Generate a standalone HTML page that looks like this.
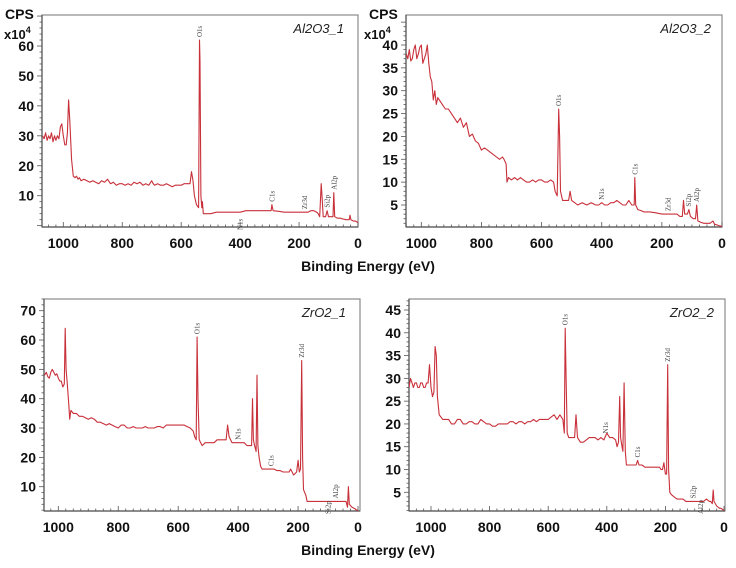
<!DOCTYPE html>
<html><head><meta charset="utf-8">
<style>
html,body{margin:0;padding:0;background:#fff;}
svg{display:block;font-family:"Liberation Sans",sans-serif;}
</style></head>
<body>
<svg id="chart" width="736" height="568" viewBox="0 0 736 568"></svg>
<script>
// ---- data: [binding energy (eV), CPS x10^4] ----
const al2o3_1 = [[1070,30],[1065,29],[1060,31],[1055,28.5],[1050,30],[1045,29],[1040,31],[1035,28],[1030,30],[1025,28.5],[1020,30],[1015,29],[1010,33],[1005,34],[1000,30],[995,27],[990,27],[986,31],[982,42],[978,35],[972,22],[966,16.5],[960,16],[955,16.5],[950,15.5],[945,16],[940,15],[930,15.5],[920,15],[910,14.5],[900,15],[890,14.5],[880,14],[870,15],[860,14.5],[850,15.5],[840,14],[830,14.5],[820,13.5],[810,14],[800,14],[790,13.5],[780,14],[770,13.5],[760,14.5],[750,14],[740,14.5],[730,13.5],[720,14],[710,13.5],[700,15],[695,14],[690,13.5],[680,14],[670,13.5],[660,13.5],[650,14],[640,13.5],[630,13],[620,13.5],[610,13.5],[600,13.5],[590,14],[580,14],[570,14],[565,18],[560,15],[555,10],[548,7],[541,6],[538,62],[536,55],[533,10],[530,6],[528,8],[525,4],[510,4],[500,4],[480,4.5],[460,4.5],[440,4.5],[420,4.5],[400,4.5],[380,5],[360,5],[340,5],[320,5],[300,5],[295,5],[292,7],[288,5],[270,4.8],[250,4.5],[230,4.5],[210,4.5],[190,4.5],[170,4.5],[160,5],[150,5],[140,4.5],[135,4],[130,3],[125,14],[122,10],[118,3],[110,3],[105,5],[100,3],[90,3],[85,3],[82,11],[79,3],[70,2.5],[60,2.5],[50,2.2],[40,2],[30,2],[27,3.5],[24,2],[15,1.5],[8,1.5],[0,1]];
const al2o3_2 = [[1050,38],[1045,37],[1040,39],[1035,36.5],[1030,37],[1025,39],[1020,40],[1015,37],[1010,38],[1005,39.5],[1000,40],[995,36],[990,37],[985,38],[980,40],[975,36],[970,33],[965,32],[960,28],[955,30],[950,27],[945,28.5],[940,28],[930,27],[920,26],[910,26],[900,25],[890,24],[880,23],[870,24],[860,22],[850,23],[840,20],[830,20.5],[820,19],[810,18.5],[800,17],[790,17.5],[780,17],[770,16.5],[760,16],[750,15.5],[740,15],[730,15.5],[725,15],[718,14],[715,10],[710,11],[700,10.5],[690,11],[680,10.5],[670,11],[660,10.5],[650,10],[640,10],[630,10.5],[620,10],[610,10.5],[600,10.5],[590,10],[580,10],[570,10.5],[560,10],[555,8],[548,7],[543,26],[540,20],[537,8],[530,6],[520,6],[510,6],[505,8],[500,6],[490,5.5],[480,5],[465,5.5],[450,5],[435,5.5],[420,5],[410,5],[400,5.5],[390,5],[380,5],[370,5.5],[360,5.5],[350,6],[340,5.5],[330,5],[320,5],[310,6],[300,5],[292,5],[290,11],[287,5],[280,4],[270,3.8],[260,3.5],[250,3.5],[240,3.5],[220,3.3],[200,3],[190,3],[180,3],[170,3],[160,3],[150,3],[140,2.5],[132,2.5],[128,6],[124,3],[115,3],[110,4],[105,2.5],[95,2],[88,2],[84,5],[80,1.5],[70,1.2],[60,1],[50,1],[40,1],[30,1.5],[25,0.8],[15,0.6],[10,0.5],[0,0.3]];
const zro2_1 = [[1046,48],[1040,49],[1035,47.5],[1030,47],[1025,49],[1020,50],[1015,49],[1010,48],[1005,48.5],[1000,47],[995,46],[990,46],[985,44],[980,45],[977,64],[974,50],[970,45],[965,38],[962,33],[958,36],[950,35],[940,35],[930,34],[920,34],[910,33.5],[900,33],[890,33.5],[880,33],[870,32],[860,32],[850,31.5],[840,31],[830,31.5],[820,31],[810,30.5],[800,30],[790,31],[780,31],[770,30],[760,30],[750,30.5],[740,30],[730,30],[720,30],[710,30.5],[700,30],[690,30],[680,30],[670,30.5],[660,30.5],[650,30],[640,31],[630,31],[620,31],[610,31],[600,31],[590,31],[580,31],[570,30.5],[560,30],[550,29],[545,27],[540,26],[537,61],[534,40],[530,26],[525,25],[520,24],[510,25],[500,25],[490,25],[480,25],[470,26],[460,26],[450,26],[440,26],[435,31],[430,27],[420,25],[410,25],[400,25],[390,25],[380,25],[370,24],[360,24],[355,24],[352,40],[349,26],[345,24],[340,22],[337,48],[334,24],[330,20],[325,17],[320,16],[310,16],[300,16],[290,16],[280,16],[270,15.5],[260,15.5],[250,15],[240,15],[230,15],[225,16],[220,15],[215,14],[205,15],[200,19],[196,15],[192,16],[188,53],[185,20],[182,9],[178,8],[174,7],[170,5],[160,5],[150,5],[135,5],[120,5],[100,5],[80,5],[60,5],[45,5],[40,5],[35,3],[32,10],[29,4],[20,3],[10,2.5],[5,2],[0,2]];
const zro2_2 = [[1075,28],[1070,30],[1065,29],[1060,28],[1055,29],[1050,29],[1045,28],[1040,28],[1035,29],[1030,29],[1025,28],[1020,28],[1015,29],[1010,29],[1005,33],[1000,28],[995,26],[990,27],[986,37],[982,35],[978,26],[972,22],[966,21.5],[960,21],[950,21],[940,21],[930,20],[920,20],[910,21],[900,21],[890,20],[880,20],[870,20.5],[860,20.5],[850,20],[840,20],[830,21],[820,20.5],[810,20],[800,20],[790,19.5],[780,19.5],[770,20],[760,20],[750,20],[740,20],[730,20.5],[720,20.5],[710,20],[700,20.5],[690,20.5],[680,20],[670,20.5],[660,20.5],[650,21],[640,20.5],[630,21],[620,21],[610,21],[600,21],[590,21.5],[580,22],[570,21],[560,22],[550,21],[545,18],[542,41],[539,30],[535,18],[530,17],[520,17],[510,17],[505,22],[500,17],[490,16],[480,16],[470,16.5],[460,17],[450,17],[440,17],[430,16.5],[420,17],[410,16.5],[400,18],[390,17],[380,17],[370,16.5],[365,15],[360,16],[356,26],[353,17],[348,15],[345,14],[341,29],[337,14],[333,11],[325,11],[320,11],[310,11],[300,11],[295,12],[290,11],[280,11],[270,10.5],[260,10.5],[250,10.5],[240,10.5],[230,10.5],[220,10.5],[215,10],[210,10],[205,11.5],[200,9],[196,9],[192,33],[189,10],[185,5],[180,4.5],[170,4],[160,3.5],[150,3.5],[140,3.5],[130,3],[120,3],[110,3],[100,3],[90,3],[80,3],[70,3],[60,3.5],[50,3],[45,3],[40,2.5],[37,5.5],[34,3],[25,2],[15,1.5],[10,1.5],[0,1]];

const xTicks = [1000,800,600,400,200,0];
const yTicks1 = [10,20,30,40,50,60];
const yTicks2 = [5,10,15,20,25,30,35,40];
const yTicks3 = [10,20,30,40,50,60,70];
const yTicks4 = [5,10,15,20,25,30,35,40,45];

const names = ["Al2O3_1","Al2O3_2","ZrO2_1","ZrO2_2"];
const peakNames1 = ["O1s","C1s","Zr3d","Si2p","Al2p","N1s"];
const peakE1 = [538,292,182,105,82,400];
const peakE2 = [543,290,180,112,84,400];
const peakE3 = [537,290,188,100,75,400];
const peakE4 = [542,295,192,105,80,405];

const NS = "http://www.w3.org/2000/svg";
const svg = document.getElementById('chart');
function mk(tag, attrs, parent){
  const e = document.createElementNS(NS, tag);
  for (const k in attrs) e.setAttribute(k, attrs[k]);
  (parent||svg).appendChild(e);
  return e;
}
function valueAt(data, e){
  let best = -1;
  data.forEach(pt => { if (Math.abs(pt[0]-e) <= 3 && pt[1] > best) best = pt[1]; });
  for (let i=0; i<data.length-1; i++){
    const a=data[i], c=data[i+1];
    if (a[0] >= e && c[0] <= e){
      const v = a[1] + (c[1]-a[1])*(a[0]-e)/(a[0]-c[0]);
      if (v > best) best = v;
    }
  }
  return best;
}

const panels = [
  {data:al2o3_1, yt:yTicks1, peaks:peakE1, below:["N1s"], box:[42,15,358,227], xA:[1000,63.3,0,358], yA:[60,46,10,195.7], lbl:[344,33]},
  {data:al2o3_2, yt:yTicks2, peaks:peakE2, below:[], box:[406,15,722,227], xA:[1000,421.3,0,722], yA:[40,45,5,205], lbl:[711,33]},
  {data:zro2_1, yt:yTicks3, peaks:peakE3, below:["Si2p"], box:[44,299,360,511], xA:[1000,58.3,0,358], yA:[70,310.7,10,486.7], lbl:[346,317]},
  {data:zro2_2, yt:yTicks4, peaks:peakE4, below:["Al2p"], box:[409,299,725,511], xA:[1000,431,0,724], yA:[45,310,5,492.3], lbl:[714,317]}
];

panels.forEach((p, pi) => {
  const [l,t,r,b] = p.box;
  const xs = e => p.xA[1] + (e - p.xA[0]) * (p.xA[3]-p.xA[1])/(p.xA[2]-p.xA[0]);
  const ys = v => p.yA[1] + (v - p.yA[0]) * (p.yA[3]-p.yA[1])/(p.yA[2]-p.yA[0]);
  const g = mk('g', {});
  
  
  const fr = mk('rect', {x:l, y:t, width:r-l, height:b-t, fill:'none', stroke:'#8a8a8a', 'stroke-width':1.2}, g);
  
  
  mk('line', {x1:l, y1:t, x2:l, y2:b, stroke:'#555', 'stroke-width':1.2}, g);
  mk('line', {x1:l, y1:b, x2:r, y2:b, stroke:'#555', 'stroke-width':1.2}, g);
  const cid = 'clip'+pi;
  const cp = mk('clipPath', {id:cid}, g);
  mk('rect', {x:l, y:t, width:r-l, height:b-t}, cp);
  for (let e=0; e<=1075; e+=25){
    const x = xs(e);
    if (x < l-0.5 || x > r+0.5) continue;
    const maj = e % 200 === 0;
    mk('line', {x1:x, y1:b, x2:x, y2:b-(maj?5:2.5), stroke:'#555', 'stroke-width':0.8}, g);
  }
  xTicks.forEach(v => {
    const tx = mk('text', {x:xs(v), y:b+21, 'text-anchor':'middle', 'font-size':14, 'font-weight':'bold', fill:'#111'}, g);
    tx.textContent = v;
    
    
  });
  const step = p.yt[1]-p.yt[0];
  for (let v=0; v<=p.yt[p.yt.length-1]+step; v+=step/5){
    const y = ys(v);
    if (y < t-0.5 || y > b+0.5) continue;
    const maj = Math.abs(v/step - Math.round(v/step)) < 1e-6;
    mk('line', {x1:l, y1:y, x2:l-(maj?5:2.5), y2:y, stroke:'#555', 'stroke-width':0.8}, g);
  }
  p.yt.forEach(v => {
    const ty = mk('text', {x:l-8, y:ys(v)+5, 'text-anchor':'end', 'font-size':14, 'font-weight':'bold', fill:'#111'}, g);
    ty.textContent = v;
    
    
  });
  const d = p.data.map((pt,i) => (i?'L':'M') + xs(pt[0]).toFixed(1) + ' ' + ys(pt[1]).toFixed(1)).join(' ');
  const path = mk('path', {d:d, fill:'none', stroke:'#c8303a', 'stroke-width':1.1, 'stroke-linejoin':'round', 'clip-path':'url(#'+cid+')'}, g);
  
  
  p.peaks.forEach((e, k) => {
    const nm = peakNames1[k];
    const x = xs(e);
    let y = ys(valueAt(p.data, e)) - 3;
    if (p.below.indexOf(nm) >= 0) y = b + 3;
    const tl = mk('text', {x:x+2.5, y:y, transform:'rotate(-90 '+(x+2.5)+' '+y+')', 'font-size':7, 'font-family':'Liberation Serif, serif', fill:'#444'}, g);
    tl.textContent = nm;
    
    
  });
  const sl = mk('text', {x:p.lbl[0], y:p.lbl[1], 'text-anchor':'end', 'font-size':13, 'font-style':'italic', fill:'#222'}, g);
  sl.textContent = names[pi];
  
  
});

[[4,368],[368,740]].forEach((c, i) => {
  const t1 = mk('text', {x:c[0]+1, y:19, 'font-size':14, 'font-weight':'bold', fill:'#111'});
  t1.textContent = 'CPS';
  
  
  const t2 = mk('text', {x:c[0]-(i?4:0), y:39, 'font-size':13, 'font-weight':'bold', fill:'#111'});
  t2.innerHTML = 'x10<tspan dy="-6" font-size="9">4</tspan>';
  
  
});
[271, 555].forEach(y => {
  const t = mk('text', {x:368, y:y, 'text-anchor':'middle', 'font-size':14, 'font-weight':'bold', fill:'#111'});
  t.textContent = 'Binding Energy (eV)';
  
  
});
</script>
</body></html>
